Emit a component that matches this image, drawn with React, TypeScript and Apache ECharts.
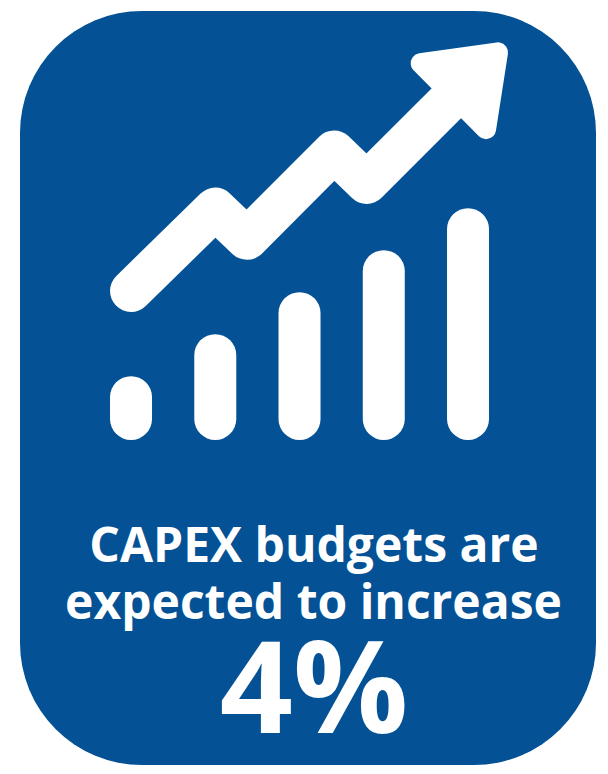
import React, { useEffect, useRef } from "react";
import * as echarts from "echarts";

const categories = ["1", "2", "3", "4", "5"];
const barValues = [1.52, 2.52, 3.52, 4.52, 5.52];
const trendX = [0, 1, 1.376, 2.41, 2.797, 3.984];
const trendY = [3.55, 5.51, 4.79, 6.87, 6.12, 8.5];
const headX = [4.356, 3.438, 4.214];
const headY = [9.23, 8.97, 7.4];
const captionLines = ["CAPEX budgets are", "expected to increase"];
const bigNumber = "4%";

const BLUE = "#045295";
const FONT = '"Open Sans", sans-serif';

export default function App() {
  const ref = useRef<HTMLDivElement>(null);
  useEffect(() => {
    document.body.style.margin = "0";
    const chart = echarts.init(ref.current!, null, { renderer: "svg" });
    chart.setOption({
      animation: false,
      backgroundColor: "#ffffff",
      grid: { left: 88.9, top: 20, width: 421.25, height: 420 },
      tooltip: { show: false },
      xAxis: [
        { type: "category", data: categories, show: false },
        { type: "value", min: -0.5, max: 4.5, show: false },
      ],
      yAxis: { type: "value", min: 0, max: 10, interval: 1, show: false },
      graphic: [
        {
          type: "rect",
          z: -1,
          shape: { x: 20, y: 11, width: 576, height: 754, r: 122 },
          style: { fill: BLUE },
        },
        {
          type: "text", z: 5, x: 314, y: 543,
          style: { text: captionLines[0], fill: "#fff", font: `bold 48px ${FONT}`, align: "center", verticalAlign: "middle" },
        },
        {
          type: "text", z: 5, x: 313.5, y: 600,
          style: { text: captionLines[1], fill: "#fff", font: `bold 48px ${FONT}`, align: "center", verticalAlign: "middle" },
        },
        {
          type: "text", z: 5, x: 314, y: 683,
          style: { text: bigNumber, fill: "#fff", font: `bold 128px ${FONT}`, align: "center", verticalAlign: "middle" },
        },
      ],
      series: [
        {
          type: "bar",
          data: barValues,
          barWidth: 42,
          silent: true,
          itemStyle: { color: "#fff", borderRadius: 21 },
        },
        {
          type: "line",
          xAxisIndex: 1,
          data: trendX.map((x, i) => [x, trendY[i]]),
          showSymbol: false,
          silent: true,
          lineStyle: { color: "#fff", width: 42, cap: "round", join: "round" },
        },
        {
          type: "custom",
          xAxisIndex: 1,
          data: headX.map((x, i) => [x, headY[i]]),
          silent: true,
          renderItem: (params: any, api: any) => {
            if (params.dataIndex !== 0) return null;
            const points = headX.map((x, i) => api.coord([x, headY[i]]));
            return {
              type: "polygon",
              shape: { points },
              style: { fill: "#fff", stroke: "#fff", lineWidth: 20, lineJoin: "round" },
            };
          },
        },
      ],
    });
    return () => chart.dispose();
  }, []);
  return <div ref={ref} style={{ position: "fixed", left: 0, top: 0, width: 608, height: 774 }} />;
}
